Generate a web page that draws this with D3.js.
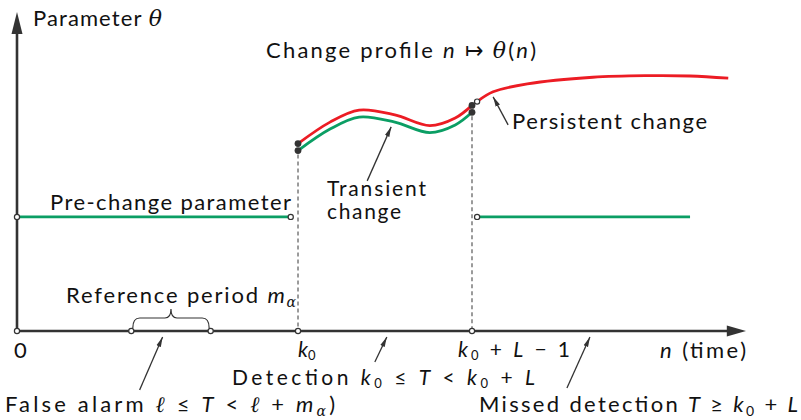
<!DOCTYPE html>
<html><head><meta charset="utf-8">
<script src="https://cdn.jsdelivr.net/npm/d3@7"></script>
<style>
body{margin:0;background:#fff}
text{font-family:Lato,"Liberation Sans",Arial,sans-serif;font-size:22px;fill:#111}
</style>
</head><body>
<svg id="c" width="801" height="420"></svg>
<script>
// ---- data (abstract units: time 0..10, parameter 0..10) ----
const preChange = 3.61;           // pre-change parameter level
const k0 = 3.86;                  // change time
const kEnd = 6.25;                // k0 + L - 1
const refPeriod = [1.57, 2.66];   // reference period m_alpha
const preSpan = [0, 3.76];
const postSpan = [6.32, 9.245];
const transX = [3.86, 4.30, 4.70, 5.19, 5.67, 6.02, 6.25];
const transRed = [5.93, 6.61, 6.99, 6.84, 6.50, 6.74, 7.14];
const transGreen = [5.71, 6.39, 6.77, 6.61, 6.28, 6.52, 6.92];
const persX = [6.32, 6.54, 7.01, 7.91, 8.65, 9.245, 9.77];
const persRed = [7.26, 7.57, 7.82, 8.03, 8.08, 8.07, 8.00];

const svg = d3.select("#c");
const x = d3.scaleLinear().domain([0, 10]).range([17, 745]);
const y = d3.scaleLinear().domain([0, 10]).range([331, 15]);

const RED = "#ec1c24", GREEN = "#0b9e64", AX = "#333";

const defs = svg.append("defs");
defs.append("marker").attr("id","ah").attr("viewBox","0 0 10 6").attr("refX",10).attr("refY",3)
  .attr("markerWidth",10).attr("markerHeight",6).attr("markerUnits","userSpaceOnUse").attr("orient","auto")
  .append("path").attr("d","M0,0.6 L10,3 L0,5.4 Z").attr("fill",AX);

// dashed verticals
[[k0, transGreen[0]], [kEnd, transGreen[transGreen.length-1]]].forEach(([t, v]) => {
  svg.append("line").attr("x1", x(t)).attr("x2", x(t)).attr("y1", y(v)+4).attr("y2", y(0))
    .attr("stroke","#666").attr("stroke-width",1.3).attr("stroke-dasharray","4,3");
});

// axes
svg.append("line").attr("x1", x(0)).attr("x2", x(0)).attr("y1", y(0)).attr("y2", y(9.5))
  .attr("stroke", AX).attr("stroke-width", 2.6);
svg.append("path").attr("d", `M${x(0)},${y(10)-3} L${x(0)-5.5},${y(9.4)} L${x(0)+5.5},${y(9.4)} Z`).attr("fill", AX);
svg.append("line").attr("x1", x(0)).attr("x2", x(9.8)).attr("y1", y(0)).attr("y2", y(0))
  .attr("stroke", AX).attr("stroke-width", 2.6);
svg.append("path").attr("d", `M${x(10)+1},${y(0)} L${x(9.75)},${y(0)-5.5} L${x(9.75)},${y(0)+5.5} Z`).attr("fill", AX);

// pre/post change level
[preSpan, postSpan].forEach(s => {
  svg.append("line").attr("x1", x(s[0])).attr("x2", x(s[1])).attr("y1", y(preChange)).attr("y2", y(preChange))
    .attr("stroke", GREEN).attr("stroke-width", 2.6);
});

// curves
const line = d3.line().x(d => x(d[0])).y(d => y(d[1])).curve(d3.curveCatmullRom.alpha(0.5));
svg.append("path").attr("d", line(d3.zip(transX, transGreen))).attr("fill","none").attr("stroke",GREEN).attr("stroke-width",2.8);
svg.append("path").attr("d", line(d3.zip(transX, transRed))).attr("fill","none").attr("stroke",RED).attr("stroke-width",2.8);
svg.append("path").attr("d", line(d3.zip(persX, persRed))).attr("fill","none").attr("stroke",RED).attr("stroke-width",2.8);

// filled dots
const last = transX.length - 1;
[[transX[0], transRed[0]], [transX[0], transGreen[0]], [transX[last], transRed[last]], [transX[last], transGreen[last]]]
  .forEach(p => svg.append("circle").attr("cx", x(p[0])).attr("cy", y(p[1])).attr("r", 3.4).attr("fill", "#333"));

// open circles
[[0, preChange], [preSpan[1], preChange], [postSpan[0], preChange], [persX[0], persRed[0]],
 [0, 0], [refPeriod[0], 0], [refPeriod[1], 0], [k0, 0], [kEnd, 0]]
  .forEach(p => svg.append("circle").attr("cx", x(p[0])).attr("cy", y(p[1])).attr("r", 2.6)
    .attr("fill", "#fff").attr("stroke", "#333").attr("stroke-width", 1.2));

// brace for reference period
{
  const x1 = x(refPeriod[0]) + 1.5, x2 = x(refPeriod[1]) - 1.5, xm = (x1 + x2) / 2;
  const yb = y(0) - 3, y1 = y(0) - 13, yt = y(0) - 22;
  svg.append("path").attr("d",
    `M${x1},${yb} Q${x1},${y1} ${x1+7},${y1} L${xm-6},${y1} Q${xm},${y1} ${xm},${yt} Q${xm},${y1} ${xm+6},${y1} L${x2-7},${y1} Q${x2},${y1} ${x2},${yb}`)
    .attr("fill","none").attr("stroke","#333").attr("stroke-width",1.2);
}

// annotation arrows: tip in data units, tail as pixel offset
const arrows = [
  {t:[5.14, 6.46], d:[-24, 54]},
  {t:[6.54, 7.41], d:[15, 28]},
  {t:[2.00, -0.19], d:[-23, 53]},
  {t:[5.08, -0.19], d:[-12, 25]},
  {t:[7.87, -0.19], d:[-23, 51]}
];
arrows.forEach(a => {
  const tx = x(a.t[0]), ty = y(a.t[1]);
  svg.append("line").attr("x1", tx + a.d[0]).attr("y1", ty + a.d[1]).attr("x2", tx).attr("y2", ty)
    .attr("stroke", "#333").attr("stroke-width", 1.3).attr("marker-end", "url(#ah)");
});

// labels
function label(px, py, parts, w, fs, sfs, sdy) {
  const t = svg.append("text").attr("x", px).attr("y", py);
  if (fs) t.style("font-size", fs + "px");
  const subSize = sfs || 14, subDy = sdy || 4;
  let sub = false;
  parts.forEach(([s, st]) => {
    const ts = t.append("tspan").text(s);
    const isSub = (st === "s" || st === "ms");
    if (st === "i") ts.attr("font-style", "italic");
    if (st === "m" || st === "ms") ts.attr("font-style", "italic").attr("font-family", "'DejaVu Serif','Liberation Serif',serif");
    if (isSub) ts.style("font-size", subSize + "px");
    if (isSub && !sub) { ts.attr("dy", subDy); sub = true; }
    else if (!isSub && sub) { ts.attr("dy", -subDy); sub = false; }
  });
  if (w) t.attr("textLength", w).attr("lengthAdjust", "spacing");
  return t;
}
label(33, 26, [["Parameter ","r"],["θ","m"]], 129);
label(266, 58, [["Change profile ","r"],["n","i"],[" ↦ ","r"],["θ","m"],["(","r"],["n","i"],[")","r"]], 270);
label(50, 210, [["Pre-change parameter","r"]], 241);
label(327, 196, [["Transient","r"]], 99, 21);
label(327, 219, [["change","r"]], 74, 21);
label(512, 129, [["Persistent change","r"]], 195);
label(66, 303, [["Reference period ","r"],["m","i"],["α","ms"]], 230);
label(14, 358, [["0","r"]]);
label(298, 357, [["k","i"],["0","s"]], null, 21, 13, 3);
label(458, 357, [["k","i"],["0","s"],[" + ","r"],["L","i"],[" − 1","r"]], 112, 21, 13, 3);
label(660, 358, [["n","i"],[" (time)","r"]], 86);
label(232, 385, [["Detection ","r"],["k","i"],["0","s"],[" ≤ ","r"],["T","i"],[" < ","r"],["k","i"],["0","s"],[" + ","r"],["L","i"]], 303, 21, 13, 3);
label(5, 412, [["False alarm ","r"],["ℓ","m"],[" ≤ ","r"],["T","i"],[" < ","r"],["ℓ","m"],[" + ","r"],["m","i"],["α","ms"],[")","r"]], 330);
label(479, 412, [["Missed detection ","r"],["T","i"],[" ≥ ","r"],["k","i"],["0","s"],[" + ","r"],["L","i"]], 319);
</script>
</body></html>
